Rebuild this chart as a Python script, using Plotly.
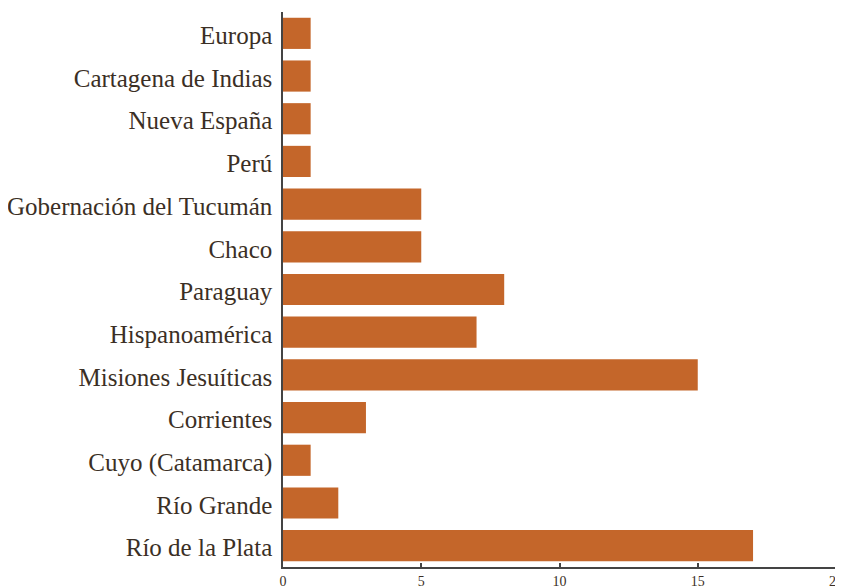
import plotly.graph_objects as go

categories = ["Europa", "Cartagena de Indias", "Nueva España", "Perú",
              "Gobernación del Tucumán", "Chaco", "Paraguay", "Hispanoamérica",
              "Misiones Jesuíticas", "Corrientes", "Cuyo (Catamarca)", "Río Grande",
              "Río de la Plata"]
values = [1, 1, 1, 1, 5, 5, 8, 7, 15, 3, 1, 2, 17]
x_ticks = [0, 5, 10, 15, 20]

TXT = "#3b2f25"
AX = "#444"

fig = go.Figure(go.Bar(
    x=values, y=categories, orientation="h",
    marker=dict(color="#C4662A", line=dict(width=0)),
    hoverinfo="x+y",
))

fig.update_layout(
    width=835, height=580,
    margin=dict(l=275, r=7, t=4, b=21, autoexpand=False),
    plot_bgcolor="white", paper_bgcolor="white",
    bargap=0.27,
    font=dict(family="Liberation Serif", color=TXT),
    showlegend=False,
    xaxis2=dict(overlaying="x", side="bottom", range=[0, 20], tickvals=x_ticks,
                showticklabels=False, showgrid=False, zeroline=False, showline=False,
                ticks="outside", ticklen=4, tickcolor=AX, tickwidth=1.5, anchor="y"),
)
fig.layout.xaxis.update(
    range=[0, 20], tickvals=x_ticks, showgrid=False, zeroline=False,
    showline=True, linecolor=AX, linewidth=1.5,
    ticks="inside", ticklen=4, tickcolor=AX, tickwidth=1.5,
    tickfont=dict(size=14, color=TXT), automargin=False,
)
fig.update_yaxes(
    autorange="reversed", showgrid=False, zeroline=False,
    showline=True, linecolor=AX, linewidth=1.5,
    ticks="", ticklabelstandoff=4, ticklabelshift=-2, automargin=False,
    tickfont=dict(size=25, color=TXT),
)

fig.write_html("out.html")
